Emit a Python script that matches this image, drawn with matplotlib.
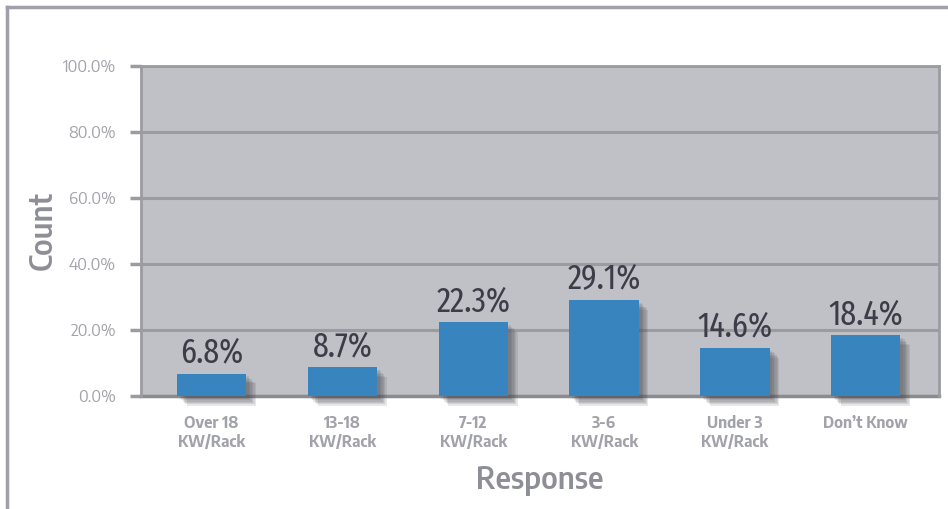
import matplotlib
matplotlib.use("Agg")
import matplotlib.pyplot as plt
import matplotlib.patheffects as pe
from matplotlib.lines import Line2D
from matplotlib import font_manager

categories = ["Over 18\nKW/Rack", "13-18\nKW/Rack", "7-12\nKW/Rack",
              "3-6\nKW/Rack", "Under 3\nKW/Rack", "Don\u2019t Know"]
values = [6.8, 8.7, 22.3, 29.1, 14.6, 18.4]
yticks = [0, 20, 40, 60, 80, 100]

names = {f.name for f in font_manager.fontManager.ttflist}


def pick(cands, default="DejaVu Sans"):
    for c in cands:
        if c in names:
            return c
    return default


narrow = pick(["Fira Sans Extra Condensed", "Roboto Condensed", "PT Sans Narrow",
               "Archivo Narrow", "Liberation Sans Narrow", "DejaVu Sans Condensed"])
semi = pick(["Encode Sans Semi Condensed", "Fira Sans Condensed", "Roboto Condensed",
             "PT Sans Narrow"], narrow)

bar_col = "#3784be"
bg_col = "#c0c1c6"
grid_col = "#9b9ba2"
tick_col = "#a2a2aa"
label_col = "#8e8e96"
val_col = "#3b3e48"

fig = plt.figure(figsize=(9.48, 5.09), dpi=100)
ax = fig.add_axes([141/948, 113/509, 798/948, 330/509])
ax.set_facecolor(bg_col)

x = list(range(len(values)))
bars = ax.bar(x, values, width=0.53, color=bar_col, zorder=3)
# soft drop shadow built from a few stacked offsets
shadow = [pe.SimplePatchShadow(offset=(d, -d), shadow_rgbFace="#4a4a52", alpha=0.13)
          for d in (7, 6, 5, 4, 3, 2)]
for b in bars:
    b.set_clip_on(False)
    b.set_path_effects(shadow + [pe.Normal()])

for xi, v in zip(x, values):
    ax.text(xi, v + 1.2, f"{v:.1f}%", ha="center", va="bottom", fontsize=25,
            family=narrow, color=val_col, zorder=4)

ax.set_xlim(-0.54, 5.56)
ax.set_ylim(0, 100)
ax.set_yticks(yticks)
ax.set_yticklabels([f"{t:.1f}%" for t in yticks], fontsize=12, color=tick_col, family=semi)
ax.set_xticks(x)
ax.set_xticklabels(categories, fontsize=11.5, color=tick_col, fontweight=700,
                   va="top", family=semi, linespacing=1.1)
ax.tick_params(axis="x", length=0, pad=14)
ax.tick_params(axis="y", length=8, width=2.5, color=grid_col, pad=10)
ax.yaxis.grid(True, color=grid_col, linewidth=2.2, zorder=1)
ax.set_axisbelow(True)
for s in ["left", "right", "top"]:
    ax.spines[s].set_color(grid_col)
    ax.spines[s].set_linewidth(2)
ax.spines["bottom"].set_color("#8a8a90")
ax.spines["bottom"].set_linewidth(2.5)
ax.spines["bottom"].set_zorder(2)

ax.set_ylabel("Count", fontsize=22, color=label_col, fontweight=600, family=semi, labelpad=3)
ax.set_xlabel("Response", fontsize=22, color=label_col, fontweight=600, family=semi, labelpad=10)

# outer frame
fig.add_artist(Line2D([7/948, 7/948], [0, 1 - 7/509], transform=fig.transFigure,
                      color="#a0a0a8", linewidth=2.5))
fig.add_artist(Line2D([7/948, 1], [1 - 7/509, 1 - 7/509], transform=fig.transFigure,
                      color="#a0a0a8", linewidth=2.5))

fig.savefig("out.png", dpi=100)
